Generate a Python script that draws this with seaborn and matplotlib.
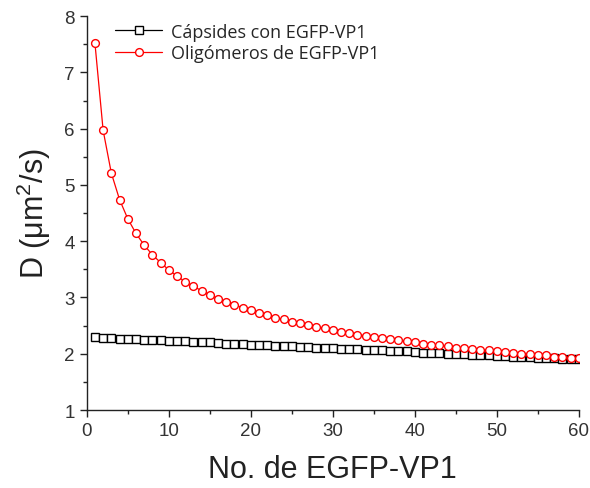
import matplotlib
matplotlib.use("Agg")
import matplotlib.pyplot as plt
import seaborn as sns
import pandas as pd
from matplotlib.ticker import MultipleLocator
from matplotlib.lines import Line2D

sns.set_theme(style="ticks")
plt.rcParams['font.family'] = ['Liberation Sans', 'DejaVu Sans']
plt.rcParams['mathtext.fontset'] = 'custom'
plt.rcParams['mathtext.rm'] = 'Liberation Sans'
plt.rcParams['mathtext.it'] = 'Liberation Sans'

n_red = list(range(1, 61))
d_oligomeros = [7.52, 5.97, 5.21, 4.74, 4.40, 4.14, 3.93, 3.76, 3.62, 3.49,
                3.38, 3.28, 3.20, 3.12, 3.05, 2.98, 2.92, 2.87, 2.82, 2.77,
                2.73, 2.68, 2.64, 2.61, 2.57, 2.54, 2.51, 2.48, 2.45, 2.42,
                2.39, 2.37, 2.34, 2.32, 2.30, 2.28, 2.26, 2.24, 2.22, 2.20,
                2.18, 2.16, 2.15, 2.13, 2.11, 2.10, 2.08, 2.07, 2.06, 2.04,
                2.03, 2.01, 2.00, 1.99, 1.98, 1.97, 1.95, 1.94, 1.93, 1.92]
n_black = list(range(1, 61))
d_capsides = [2.29, 2.28, 2.28, 2.27, 2.26, 2.26, 2.25, 2.24, 2.24, 2.23,
              2.22, 2.22, 2.21, 2.20, 2.20, 2.19, 2.18, 2.18, 2.17, 2.16,
              2.16, 2.15, 2.14, 2.14, 2.13, 2.12, 2.12, 2.11, 2.10, 2.10,
              2.09, 2.08, 2.08, 2.07, 2.06, 2.06, 2.05, 2.04, 2.04, 2.03,
              2.02, 2.02, 2.01, 2.00, 2.00, 1.99, 1.98, 1.98, 1.97, 1.96,
              1.96, 1.95, 1.94, 1.94, 1.93, 1.92, 1.92, 1.91, 1.90, 1.90]
label_caps = "Cápsides con EGFP-VP1"
label_olig = "Oligómeros de EGFP-VP1"

df_c = pd.DataFrame({"N": n_black, "D": d_capsides})
df_o = pd.DataFrame({"N": n_red, "D": d_oligomeros})

fig = plt.figure(figsize=(5.9, 4.89), dpi=100)
ax = fig.add_axes([0.147, 0.1595, 0.834, 0.8055])

sq = dict(marker="s", markersize=5.8, markerfacecolor="white",
          markeredgecolor="black", markeredgewidth=1.0)
ci = dict(marker="o", markersize=5.6, markerfacecolor="white",
          markeredgecolor="red", markeredgewidth=1.0)

sns.lineplot(data=df_c, x="N", y="D", ax=ax, color="black", lw=0.9, **sq)
sns.lineplot(data=df_o, x="N", y="D", ax=ax, color="red", lw=0.9, **ci)

ax.set_xlim(0, 60)
ax.set_ylim(1, 8)
ax.xaxis.set_major_locator(MultipleLocator(10))
ax.xaxis.set_minor_locator(MultipleLocator(5))
ax.yaxis.set_major_locator(MultipleLocator(1))
ax.yaxis.set_minor_locator(MultipleLocator(0.5))
ax.tick_params(which="major", direction="out", length=5, width=1, labelsize=13.5,
               color="#222222", labelcolor="#333333")
ax.tick_params(which="minor", direction="out", length=3, width=1, color="#222222")
for s in ["top", "right"]:
    ax.spines[s].set_visible(False)
for s in ["left", "bottom"]:
    ax.spines[s].set_linewidth(1)
    ax.spines[s].set_color("#222222")

ax.set_xlabel("No. de EGFP-VP1", fontsize=22, color="#222222", labelpad=11)
ax.set_ylabel(r"D ($\mu$m$^{2}$/s)", fontsize=22, color="#222222", labelpad=8)

handles = [Line2D([], [], color="black", lw=0.9, **sq),
           Line2D([], [], color="red", lw=0.9, **ci)]
ax.legend(handles, [label_caps, label_olig], loc="upper left",
          bbox_to_anchor=(0.025, 1.025), frameon=False,
          handlelength=2.6, handletextpad=0.5, labelspacing=0.2,
          prop={"family": ["Open Sans", "DejaVu Sans"], "size": 13})

fig.savefig("out.png", dpi=100)
